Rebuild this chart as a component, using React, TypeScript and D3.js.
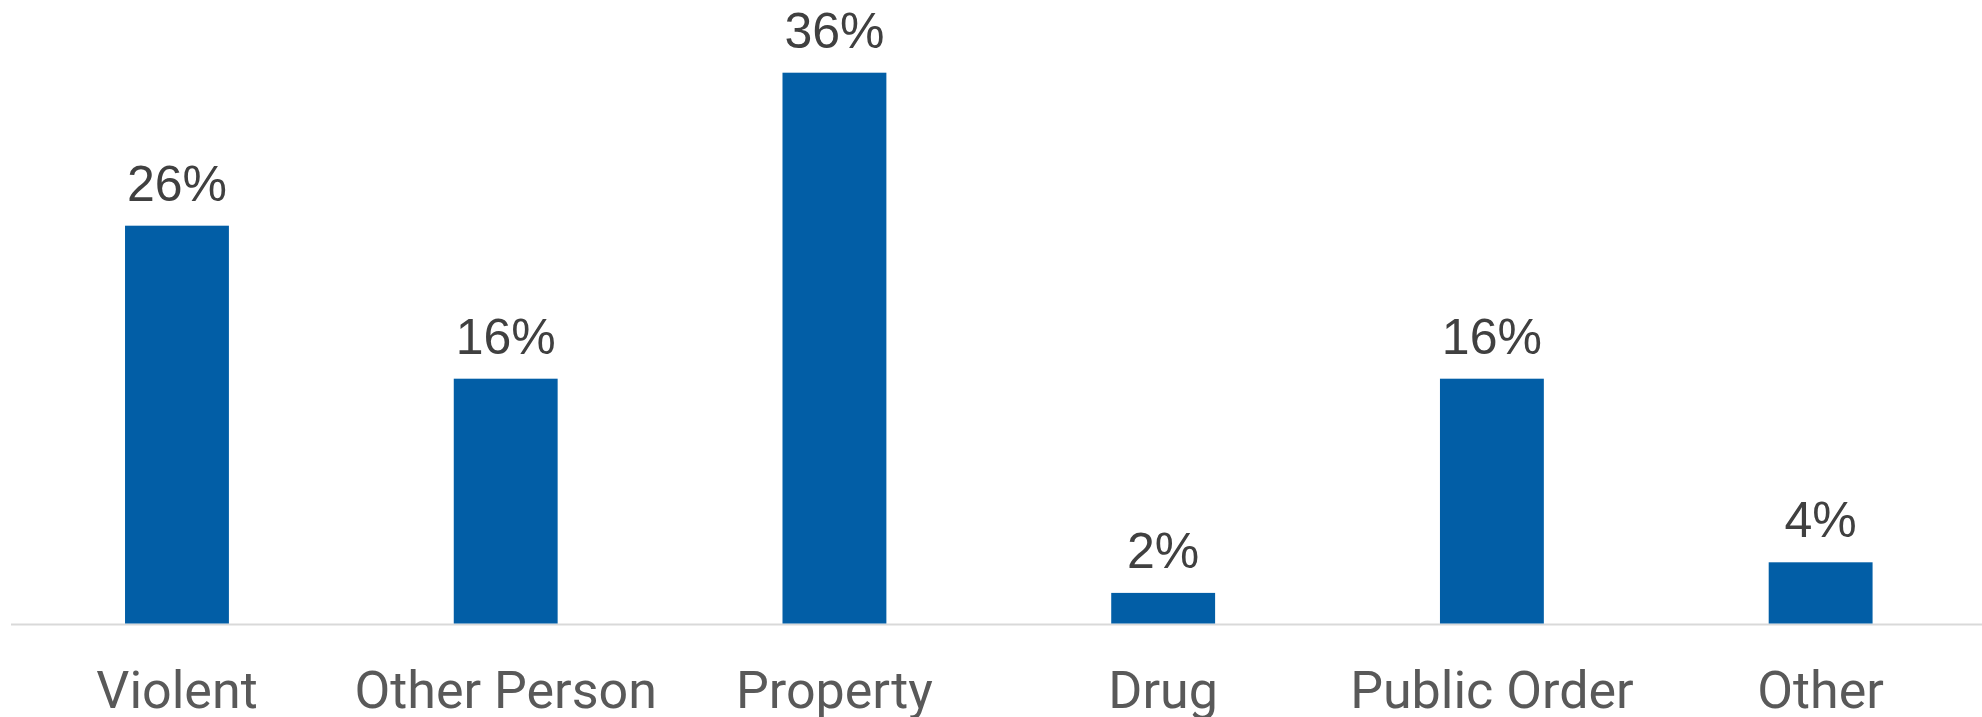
import React, { useEffect, useRef } from "react";
import * as d3 from "d3";

const categories = ["Violent", "Other Person", "Property", "Drug", "Public Order", "Other"];
const shares = [0.26, 0.16, 0.36, 0.02, 0.16, 0.04];
const valueLabels = ["26%", "16%", "36%", "2%", "16%", "4%"];

const W = 1982;
const H = 717;

export default function App() {
  const ref = useRef<SVGSVGElement>(null);
  useEffect(() => {
    const svg = d3.select(ref.current);
    svg.selectAll("*").remove();
    const x = d3.scaleBand<string>().domain(categories).range([12.6, 1985]).paddingInner(0.684).paddingOuter(0.342);
    const y = d3.scaleLinear().domain([0, 0.4]).range([623.5, 11.5]);

    svg.append("line")
      .attr("x1", 11).attr("x2", W)
      .attr("y1", y(0) + 1).attr("y2", y(0) + 1)
      .attr("stroke", "#d9d9d9").attr("stroke-width", 2);

    svg.selectAll("rect.bar").data(shares).join("rect")
      .attr("class", "bar")
      .attr("x", (_, i) => x(categories[i])!)
      .attr("width", x.bandwidth())
      .attr("y", d => y(d))
      .attr("height", d => y(0) - y(d))
      .attr("fill", "#025EA6");

    svg.selectAll("text.val").data(shares).join("text")
      .attr("class", "val")
      .attr("x", (_, i) => x(categories[i])! + x.bandwidth() / 2)
      .attr("y", d => y(d) - 25)
      .attr("text-anchor", "middle")
      .attr("font-family", "'Liberation Sans', Arial, sans-serif")
      .attr("font-size", 50)
      .attr("fill", "#404040")
      .text((_, i) => valueLabels[i]);

    svg.selectAll("text.cat").data(categories).join("text")
      .attr("class", "cat")
      .attr("x", d => x(d)! + x.bandwidth() / 2)
      .attr("y", 708)
      .attr("text-anchor", "middle")
      .attr("font-family", "'Liberation Sans Narrow', 'Roboto', sans-serif")
      .attr("font-size", 52)
      .attr("fill", "#595959")
      .text(d => d);
  }, []);
  return (
    <svg ref={ref} width={W} height={H} style={{ position: "absolute", left: 0, top: 0, background: "#fff" }} />
  );
}
